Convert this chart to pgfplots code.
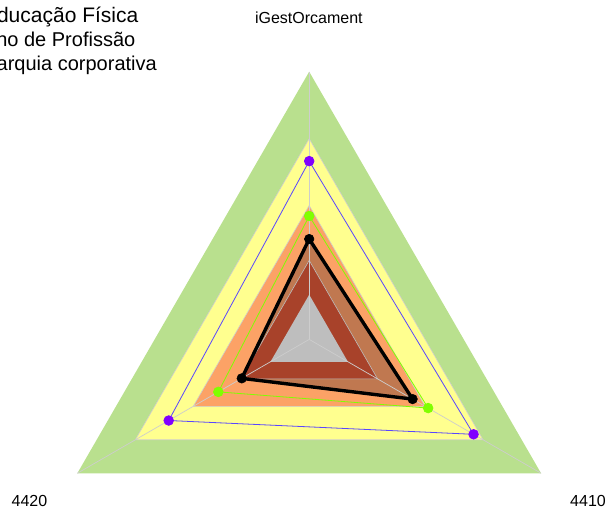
\documentclass[border=0pt]{standalone}
\usepackage{pgfplots}
\pgfplotsset{compat=1.18}
\usepackage{fontspec}
\setmainfont{Liberation Sans}

\definecolor{zonaVerde}{RGB}{185,224,142}
\definecolor{zonaAmarela}{RGB}{255,255,143}
\definecolor{zonaLaranja}{RGB}{252,162,102}
\definecolor{zonaMarrom}{RGB}{168,66,42}
\definecolor{zonaCinza}{RGB}{190,190,190}
\definecolor{preenchePreto}{RGB}{192,120,80}
\definecolor{bordaZona}{RGB}{205,205,205}
\definecolor{serieRoxa}{RGB}{128,0,255}
\definecolor{linhaRoxa}{RGB}{90,70,255}
\definecolor{serieVerde}{RGB}{128,255,0}

\begin{document}
\begin{tikzpicture}
\useasboundingbox (0,0) rectangle (609pt,514pt);
\begin{axis}[
  hide axis,
  x=267.7pt, y=267.7pt,
  xmin=-1.1550, xmax=1.1199,
  ymin=-0.6522, ymax=1.2679,
  data cs=polar,
  clip=false,
  every axis plot/.append style={line join=miter}
]
% zonas de fundo
\addplot[fill=zonaVerde, draw=none] coordinates {(90,1) (210,1) (330,1)} -- cycle;
\addplot[fill=zonaAmarela, draw=bordaZona, line width=0.6pt] coordinates {(90,0.75) (210,0.75) (330,0.75)} -- cycle;
\addplot[fill=zonaLaranja, draw=bordaZona, line width=0.6pt] coordinates {(90,0.5) (210,0.5) (330,0.5)} -- cycle;
% preenchimento da serie preta
\addplot[fill=preenchePreto, draw=none] coordinates {(90,0.375) (210,0.291) (330,0.446)} -- cycle;
\addplot[fill=zonaMarrom, draw=bordaZona!80!gray, line width=0.6pt] coordinates {(90,0.295) (210,0.295) (330,0.295)} -- cycle;
\addplot[fill=zonaCinza, draw=none] coordinates {(90,0.167) (210,0.167) (330,0.167)} -- cycle;
% raios
\addplot[bordaZona, line width=0.7pt] coordinates {(90,0) (90,1)};
\addplot[bordaZona, line width=0.7pt] coordinates {(210,0) (210,1)};
\addplot[bordaZona, line width=0.7pt] coordinates {(330,0) (330,1)};
% series
\addplot[linhaRoxa, line width=0.8pt, mark=*, mark size=4.8pt, mark options={fill=serieRoxa, draw=serieRoxa}] coordinates {(90,0.666) (210,0.606) (330,0.709)} -- cycle;
\addplot[serieVerde, line width=0.8pt, mark=*, mark size=4.8pt, mark options={fill=serieVerde, draw=serieVerde}] coordinates {(90,0.461) (210,0.392) (330,0.513)} -- cycle;
\addplot[black, line width=3.4pt, mark=*, mark size=4.8pt, mark options={fill=black, draw=black, line width=0.5pt}] coordinates {(90,0.375) (210,0.291) (330,0.446)} -- cycle;
\end{axis}
% rotulos dos eixos
\node[anchor=base, font=\fontsize{16}{19}\selectfont] at (308.8pt,490pt) {iGestOrcament};
\node[anchor=base, font=\fontsize{16}{19}\selectfont] at (29.5pt,7.3pt) {4420};
\node[anchor=base, font=\fontsize{16}{19}\selectfont] at (588pt,7.3pt) {4410};
% titulo (cortado na margem esquerda)
\node[anchor=base east, inner sep=0pt, font=\fontsize{21}{24}\selectfont] at (138.5pt,491pt) {ducação Física};
\node[anchor=base east, inner sep=0pt, font=\fontsize{20}{24}\selectfont] at (135.5pt,467pt) {no de Profissão};
\node[anchor=base east, inner sep=0pt, font=\fontsize{20}{24}\selectfont] at (157pt,443pt) {arquia corporativa};
\end{tikzpicture}
\end{document}
